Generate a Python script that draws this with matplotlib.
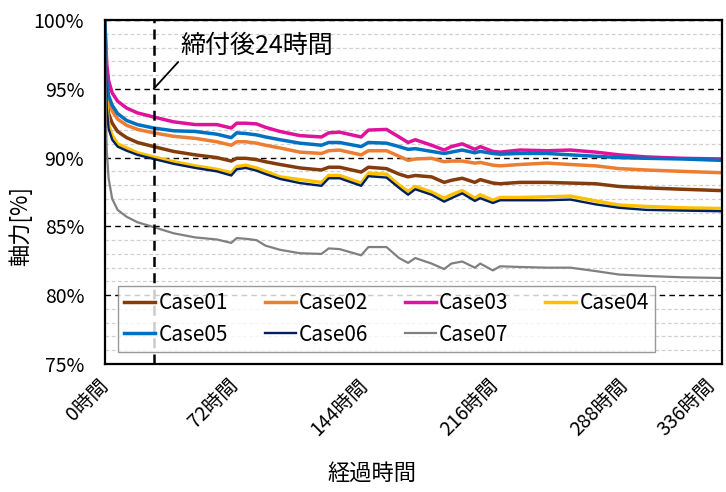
import matplotlib
matplotlib.use("Agg")
import matplotlib.pyplot as plt
from matplotlib.ticker import FixedLocator, MultipleLocator

plt.rcParams["font.family"] = ["Noto Sans CJK JP", "DejaVu Sans"]

# elapsed time [h]
hours = [0, 0.5, 1, 2, 4, 7, 12, 18, 27, 38, 50, 62, 70, 73, 78, 84, 89, 97,
         108, 120, 124, 130, 142, 146, 156, 163, 168, 172, 181, 188, 192, 198,
         205, 208, 215, 219, 230, 245, 258, 272, 285, 300, 320, 342]

case01 = [100, 96.0, 94.3, 93.2, 92.5, 91.9, 91.45, 91.1, 90.8, 90.45, 90.2, 90.0,
          89.75, 89.95, 89.95, 89.85, 89.7, 89.5, 89.25, 89.1, 89.3, 89.3, 88.95,
          89.3, 89.2, 88.8, 88.6, 88.7, 88.6, 88.2, 88.35, 88.5, 88.2, 88.4, 88.15,
          88.1, 88.2, 88.2, 88.15, 88.1, 87.9, 87.8, 87.7, 87.6]
case02 = [100, 96.8, 95.2, 94.2, 93.4, 92.8, 92.35, 92.05, 91.8, 91.55, 91.4, 91.15,
          90.9, 91.15, 91.15, 91.05, 90.9, 90.7, 90.4, 90.3, 90.5, 90.55, 90.2,
          90.5, 90.5, 90.1, 89.8, 89.9, 89.95, 89.7, 89.75, 89.75, 89.6, 89.65,
          89.45, 89.4, 89.5, 89.6, 89.5, 89.4, 89.2, 89.1, 89.0, 88.9]
case03 = [100, 98.0, 96.8, 95.6, 94.7, 94.1, 93.6, 93.25, 92.95, 92.6, 92.4, 92.4,
          92.15, 92.5, 92.5, 92.45, 92.2, 91.9, 91.6, 91.5, 91.8, 91.85, 91.5,
          92.0, 92.05, 91.5, 91.1, 91.3, 90.9, 90.55, 90.8, 91.0, 90.6, 90.8,
          90.45, 90.4, 90.55, 90.5, 90.55, 90.4, 90.2, 90.05, 89.95, 89.9]
case04 = [100, 96.5, 94.0, 92.4, 91.6, 91.0, 90.7, 90.35, 90.05, 89.7, 89.4, 89.15,
          88.9, 89.35, 89.45, 89.25, 89.0, 88.6, 88.4, 88.2, 88.7, 88.7, 88.15,
          88.85, 88.8, 88.0, 87.55, 87.9, 87.5, 87.05, 87.3, 87.6, 87.05, 87.3,
          86.9, 87.1, 87.1, 87.15, 87.2, 86.85, 86.55, 86.45, 86.35, 86.3]
case05 = [100, 97.0, 95.5, 94.5, 93.8, 93.2, 92.7, 92.4, 92.15, 91.95, 91.9, 91.7,
          91.45, 91.8, 91.75, 91.65, 91.5, 91.3, 91.05, 90.9, 91.1, 91.1, 90.8,
          91.1, 91.05, 90.8, 90.6, 90.65, 90.45, 90.3, 90.4, 90.55, 90.35, 90.45,
          90.3, 90.25, 90.3, 90.3, 90.2, 90.1, 90.0, 89.95, 89.9, 89.8]
case06 = [100, 96.0, 93.6, 92.1, 91.3, 90.8, 90.5, 90.2, 89.9, 89.55, 89.25, 89.0,
          88.7, 89.15, 89.25, 89.05, 88.8, 88.45, 88.15, 87.95, 88.5, 88.5, 87.95,
          88.65, 88.55, 87.8, 87.3, 87.7, 87.3, 86.8, 87.05, 87.4, 86.85, 87.05,
          86.7, 86.9, 86.9, 86.9, 86.95, 86.6, 86.35, 86.2, 86.15, 86.1]
case07 = [100, 93.0, 90.5, 88.5, 87.0, 86.2, 85.7, 85.3, 84.95, 84.5, 84.2, 84.05,
          83.8, 84.15, 84.1, 84.0, 83.6, 83.3, 83.05, 83.0, 83.4, 83.35, 82.9,
          83.5, 83.5, 82.7, 82.35, 82.7, 82.3, 81.9, 82.3, 82.45, 82.0, 82.3,
          81.8, 82.1, 82.05, 82.0, 82.0, 81.75, 81.5, 81.4, 81.3, 81.25]

labels = ["Case01", "Case02", "Case03", "Case04", "Case05", "Case06", "Case07"]
series = [case01, case02, case03, case04, case05, case06, case07]
colors = ["#843C0C", "#ED7D31", "#E0119B", "#FFC000", "#0070C0", "#002060", "#808080"]
widths = [2.5, 2.5, 2.5, 2.5, 2.5, 1.7, 1.6]

xticks = [0, 72, 144, 216, 288, 336]
xticklabels = [f"{h}時間" for h in xticks]
marker_hour = 27  # where the "24 h after tightening" marker sits on the chart
marker_text = "締付後24時間"

fig = plt.figure(figsize=(7.26, 4.92), dpi=100)
ax = fig.add_axes([0.1446, 0.2602, 0.8499, 0.6991])

lines = []
for y, lab, c, lw in zip(series, labels, colors, widths):
    ln, = ax.plot(hours, y, color=c, lw=lw, label=lab, solid_joinstyle="round")
    lines.append(ln)

ax.set_xlim(0, 342)
ax.set_ylim(75, 100)

ax.yaxis.set_major_locator(MultipleLocator(5))
ax.yaxis.set_minor_locator(MultipleLocator(1))
ax.set_yticks(ax.get_yticks())
ax.set_yticklabels([f"{int(v)}%" for v in ax.get_yticks()])
ax.set_ylim(75, 100)
ax.grid(which="minor", axis="y", color="#D0D0D0", lw=0.9, ls=(0, (3, 2)))
ax.grid(which="major", axis="y", color="black", lw=1.0, ls=(0, (4, 3)))
ax.set_axisbelow(True)

ax.xaxis.set_major_locator(FixedLocator(xticks))
ax.set_xticklabels(xticklabels, rotation=45, ha="right", va="center",
                   rotation_mode="anchor")
ax.tick_params(axis="x", length=0, pad=13, labelsize=14)
ax.tick_params(axis="y", which="both", length=0, pad=15, labelsize=14)

for s in ax.spines.values():
    s.set_linewidth(1.6)
    s.set_color("black")

ax.axvline(marker_hour, color="black", lw=1.8, ls=(0, (4, 2.5)), zorder=5)
ax.annotate(marker_text, xy=(marker_hour, 95), xytext=(42, 98.1),
            fontsize=18, ha="left", va="center",
            arrowprops=dict(arrowstyle="-", color="black", lw=1.3,
                            shrinkA=0, shrinkB=0, relpos=(0.0, 0.0)))

ax.set_ylabel("軸力[%]", fontsize=16)
ax.yaxis.set_label_coords(-0.118, 0.40)
ax.set_xlabel("経過時間", fontsize=16)
ax.xaxis.set_label_coords(0.433, -0.283)

# legend fills row by row in the reference: 01-04 on top, 05-07 below
order = [0, 4, 1, 5, 2, 6, 3]
leg = ax.legend([lines[i] for i in order], [labels[i] for i in order],
                loc="lower left", bbox_to_anchor=(0.021, 0.035), ncol=4,
                fontsize=15, frameon=True, fancybox=False, borderaxespad=0,
                handlelength=1.5, handletextpad=0.15, columnspacing=1.75,
                labelspacing=0.45, borderpad=0.3)
leg.get_frame().set_edgecolor("#808080")
leg.get_frame().set_linewidth(1.0)
leg.set_zorder(10)

fig.savefig("out.png", dpi=100)
plt.close(fig)
